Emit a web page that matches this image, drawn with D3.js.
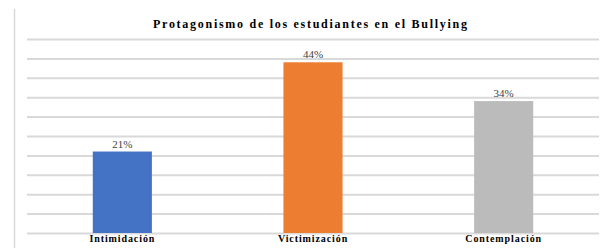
<!DOCTYPE html>
<html>
<head>
<meta charset="utf-8">
<script src="https://cdn.jsdelivr.net/npm/d3@7"></script>
<style>
    body { margin: 0; background: #fff; }
    svg { display: block; }
</style>
</head>
<body>
<div id="container"></div>
<script>
// datos del gráfico
const categories = ['Intimidación', 'Victimización', 'Contemplación'];
const values = [21, 44, 34];
const colors = ['#4472C4', '#ED7D31', '#BBBBBB'];
const yTicks = [0, 5, 10, 15, 20, 25, 30, 35, 40, 45, 50];
const title = 'Protagonismo de los estudiantes en el Bullying';

const SERIF = '"Liberation Serif", "Times New Roman", "DejaVu Serif", serif';
const width = 602, height = 248;
const margin = {left: 27, right: 3, top: 39, bottom: 15};
const innerWidth = width - margin.left - margin.right;
const innerHeight = height - margin.top - margin.bottom;

const svg = d3.select('#container')
    .append('svg')
    .attr('width', width)
    .attr('height', height);

// borde izquierdo del marco
svg.append('line')
    .attr('x1', 14.5).attr('x2', 14.5)
    .attr('y1', 9).attr('y2', height)
    .attr('stroke', '#d9d9d9')
    .attr('stroke-width', 1.5);

// título
svg.append('text')
    .attr('x', 310)
    .attr('y', 28)
    .attr('text-anchor', 'middle')
    .attr('textLength', 314)
    .attr('lengthAdjust', 'spacing')
    .style('font-family', SERIF)
    .style('font-weight', 'bold')
    .style('font-size', '12px')
    .style('fill', '#000')
    .text(title);

const g = svg.append('g')
    .attr('transform', `translate(${margin.left},${margin.top})`);

// escalas
const xScale = d3.scaleBand()
    .domain(categories)
    .range([0, innerWidth])
    .padding(0);
const yScale = d3.scaleLinear()
    .domain([0, 50])
    .range([innerHeight, 0]);

// líneas de cuadrícula
const yAxis = d3.axisLeft(yScale)
    .tickValues(yTicks)
    .tickSize(-innerWidth)
    .tickFormat('');
const yAxisG = g.append('g').call(yAxis);
yAxisG.select('.domain').remove();
yAxisG.selectAll('.tick line')
    .attr('stroke', '#d9d9d9')
    .attr('stroke-width', 2);

// barras
const barW = xScale.bandwidth() * 0.31;
const bars = g.selectAll('.bar')
    .data(categories.map((c, i) => ({name: c, value: values[i], color: colors[i]})))
    .enter()
    .append('g')
    .attr('class', 'bar');

bars.append('rect')
    .attr('x', d => xScale(d.name) + (xScale.bandwidth() - barW) / 2)
    .attr('y', d => yScale(d.value))
    .attr('width', barW)
    .attr('height', d => innerHeight - yScale(d.value))
    .attr('fill', d => d.color);

// etiquetas de valor
bars.append('text')
    .attr('x', d => xScale(d.name) + xScale.bandwidth() / 2)
    .attr('y', d => yScale(d.value) - 4)
    .attr('text-anchor', 'middle')
    .style('font-family', SERIF)
    .style('font-size', '11px')
    .style('fill', '#404040')
    .text(d => d.value + '%');

// eje x (categorías), línea base a 242px
const xAxis = d3.axisBottom(xScale).tickSize(0).tickPadding(0);
const xAxisG = g.append('g')
    .attr('transform', `translate(0,${innerHeight})`)
    .call(xAxis);
xAxisG.select('.domain').remove();
xAxisG.selectAll('.tick text')
    .attr('y', 0)
    .attr('dy', 9)
    .style('font-family', SERIF)
    .style('font-weight', 'bold')
    .style('font-size', '10px')
    .style('letter-spacing', '0.9px')
    .style('fill', '#000');
</script>
</body>
</html>
